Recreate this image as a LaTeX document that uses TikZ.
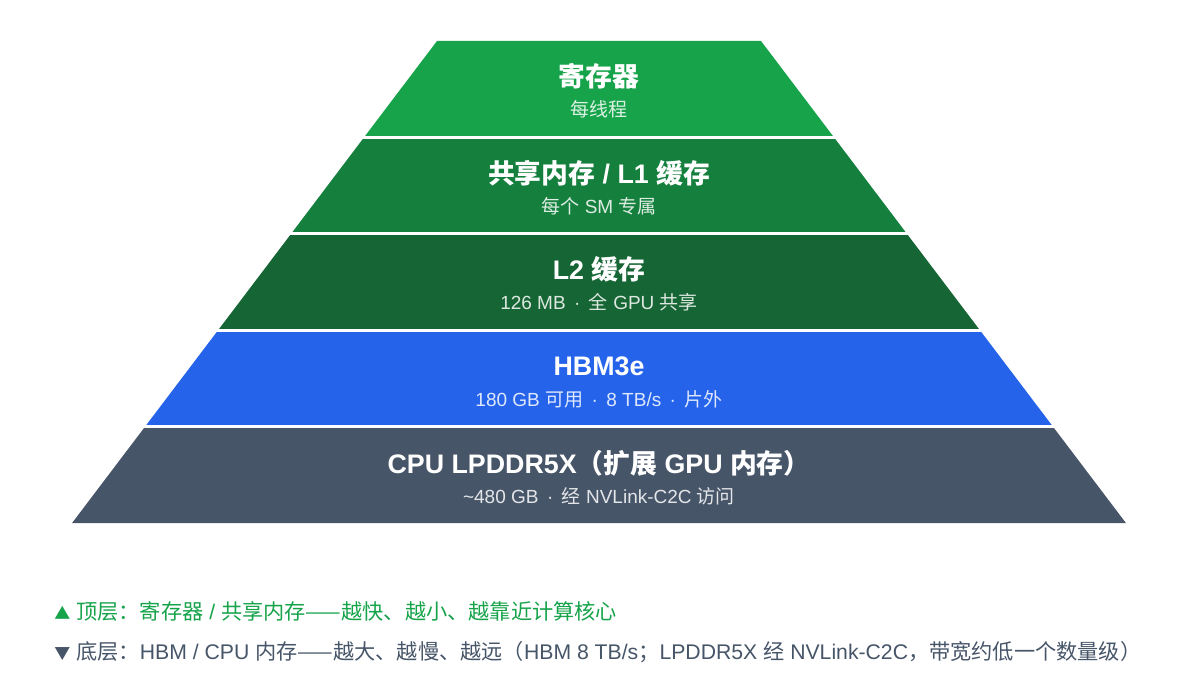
\documentclass[tikz,border=0pt]{standalone}
\usepackage{fontspec}
\setmainfont{Noto Sans CJK SC}
\newfontfamily\latfont{Liberation Sans}
\newcommand\en[1]{{\latfont #1}}
\newcommand\mk[1]{{\fontsize{8}{10}\selectfont #1}}
\usetikzlibrary{positioning}
\definecolor{lvlone}{HTML}{16A34A}
\definecolor{lvltwo}{HTML}{15803D}
\definecolor{lvlthree}{HTML}{166534}
\definecolor{lvlfour}{HTML}{2563EB}
\definecolor{lvlfive}{HTML}{475569}
\tikzset{
  ttl/.style={text=white, inner sep=0pt, font=\fontsize{13.4}{15}\selectfont\bfseries},
  sub/.style={text=white, text opacity=0.85, inner sep=0pt, font=\fontsize{9.5}{11}\selectfont},
  note/.style={anchor=west, inner sep=0pt, font=\fontsize{10.6}{12}\selectfont}
}
\begin{document}
\begin{tikzpicture}[x=0.5pt, y=-0.5pt]
  \useasboundingbox (0,0) rectangle (1198,700);

  % Layers
  \fill[lvlone] (437,41) -- (761,41) -- (834,137.4) -- (364,137.4) -- cycle;
  \fill[lvltwo] (364,137.4) -- (834,137.4) -- (906.9,233.8) -- (291.1,233.8) -- cycle;
  \fill[lvlthree] (291.1,233.8) -- (906.9,233.8) -- (979.9,330.2) -- (218.1,330.2) -- cycle;
  \fill[lvlfour] (218.1,330.2) -- (979.9,330.2) -- (1052.9,426.6) -- (145.1,426.6) -- cycle;
  \fill[lvlfive] (145.1,426.6) -- (1052.9,426.6) -- (1125.9,523) -- (72.1,523) -- cycle;
  \foreach \yy in {137.4, 233.8, 330.2, 426.6}
    \draw[white, line width=1.5pt] (60,\yy) -- (1140,\yy);

  % Texts
  \node[ttl] (regT) at (599,76) {寄存器};
  \node[sub] (regS) at (599,109) {每线程};
  \node[ttl] (smemT) at (599,173) {共享内存\en{ / L1 }缓存};
  \node[sub] (smemS) at (599,206) {每个\en{ SM }专属};
  \node[ttl] (ltwoT) at (599,269) {\en{L2 }缓存};
  \node[sub] (ltwoS) at (599,302) {\en{126 MB \,·\, }全\en{ GPU }共享};
  \node[ttl] (hbmT) at (599,366) {\en{HBM3e}};
  \node[sub] (hbmS) at (599,399) {\en{180 GB }可用\en{ \,·\, 8 TB/s \,·\, }片外};
  \node[ttl] (cpuT) at (599,463) {\en{CPU LPDDR5X}（扩展\en{ GPU }内存）};
  \node[sub] (cpuS) at (599,496) {\en{\textasciitilde 480 GB \,·\, }经\en{ NVLink-C2C }访问};

  % Notes
  \node[note, text=lvlone] (topnote) at (54,611) {\mk{▲}\en{ }顶层：寄存器\en{ / }共享内存——越快、越小、越靠近计算核心};
  \node[note, text=lvlfive] (botnote) at (54,652) {\mk{▼}\en{ }底层：\en{HBM / CPU }内存——越大、越慢、越远（\en{HBM 8 TB/s}；\en{LPDDR5X }经\en{ NVLink-C2C}，带宽约低一个数量级）};
\end{tikzpicture}
\end{document}
